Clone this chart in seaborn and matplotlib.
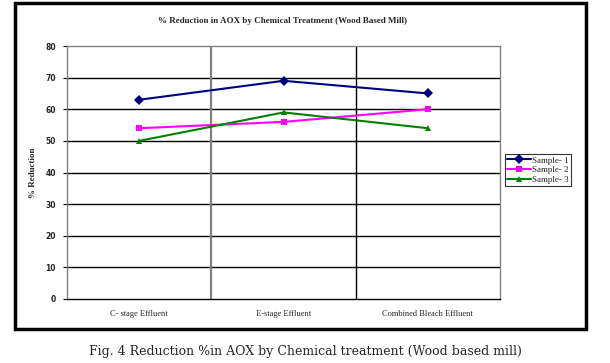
import matplotlib
matplotlib.use("Agg")
import matplotlib.pyplot as plt
import seaborn as sns
import pandas as pd
from matplotlib.patches import Rectangle

stages = ["C- stage Effluent", "E-stage Effluent", "Combined Bleach Effluent"]
sample1 = [63, 69, 65]
sample2 = [54, 56, 60]
sample3 = [50, 59, 54]
series_names = ["Sample- 1", "Sample- 2", "Sample- 3"]
yticks = [0, 10, 20, 30, 40, 50, 60, 70, 80]

rows = []
for name, vals in zip(series_names, [sample1, sample2, sample3]):
    for s, v in zip(stages, vals):
        rows.append({"stage": s, "value": v, "sample": name})
df = pd.DataFrame(rows)

sns.set_style("white")
plt.rcParams["font.family"] = ["Liberation Serif", "DejaVu Serif"]

W, H = 610, 363
fig = plt.figure(figsize=(W / 100, H / 100), dpi=100)
ax = fig.add_axes([67 / W, 1 - 299 / H, (500 - 67) / W, (299 - 46) / H])

palette = {"Sample- 1": "#000080", "Sample- 2": "#FF00FF", "Sample- 3": "#008000"}
markers = {"Sample- 1": "D", "Sample- 2": "s", "Sample- 3": "^"}
sizes = {"Sample- 1": 4, "Sample- 2": 6, "Sample- 3": 5}

sns.lineplot(data=df, x="stage", y="value", hue="sample", style="sample",
             palette=palette, markers=markers, dashes=False, sort=False,
             linewidth=1.5, markersize=5, markeredgewidth=0, ax=ax, legend=True)

ax.set_xlim(-0.5, 2.5)
ax.set_ylim(0, 80)
ax.set_yticks(yticks)
ax.set_yticklabels([str(t) for t in yticks], fontsize=5.5, fontweight="bold",
                   family="DejaVu Sans")
ax.set_xticks([0, 1, 2])
ax.set_xticklabels(stages, fontsize=6)
ax.tick_params(axis="x", length=0, pad=8)
ax.tick_params(axis="y", length=3, width=0.8, color="black", left=True, pad=5)
for t in yticks[1:-1]:
    ax.axhline(t, color="black", lw=1, zorder=0)
ax.axvline(0.5, color="#808080", lw=1.6, zorder=0)
ax.axvline(1.5, color="black", lw=1, zorder=0)
for sp in ax.spines.values():
    sp.set_color("#808080")
    sp.set_linewidth(1)
ax.spines["bottom"].set_color("black")
ax.set_xlabel("")
ax.set_ylabel("% Reduction", fontsize=6.5, fontweight="bold", labelpad=6)

leg = ax.legend(loc="upper left", bbox_to_anchor=(505 / W, 1 - 154 / H),
                bbox_transform=fig.transFigure, fontsize=6.5, frameon=True,
                fancybox=False, edgecolor="black", handlelength=2.6,
                handletextpad=0.1, borderpad=0.25, labelspacing=0.15,
                borderaxespad=0)
leg.get_frame().set_linewidth(0.8)

fig.text(283 / W, 1 - 21 / H, "% Reduction in AOX by Chemical Treatment (Wood Based Mill)",
         ha="center", va="center", fontsize=6.5, fontweight="bold")

fig.patches.append(Rectangle((15 / W, 1 - 329 / H), (586 - 15) / W, (329 - 3) / H,
                             transform=fig.transFigure, fill=False,
                             edgecolor="black", linewidth=2.5))

fig.text(305 / W, 1 - 352 / H, "Fig. 4 Reduction %in AOX by Chemical treatment (Wood based mill)",
         ha="center", va="center", fontsize=9, family=["DejaVu Serif"])

fig.savefig("out.png", dpi=100, facecolor="white")
